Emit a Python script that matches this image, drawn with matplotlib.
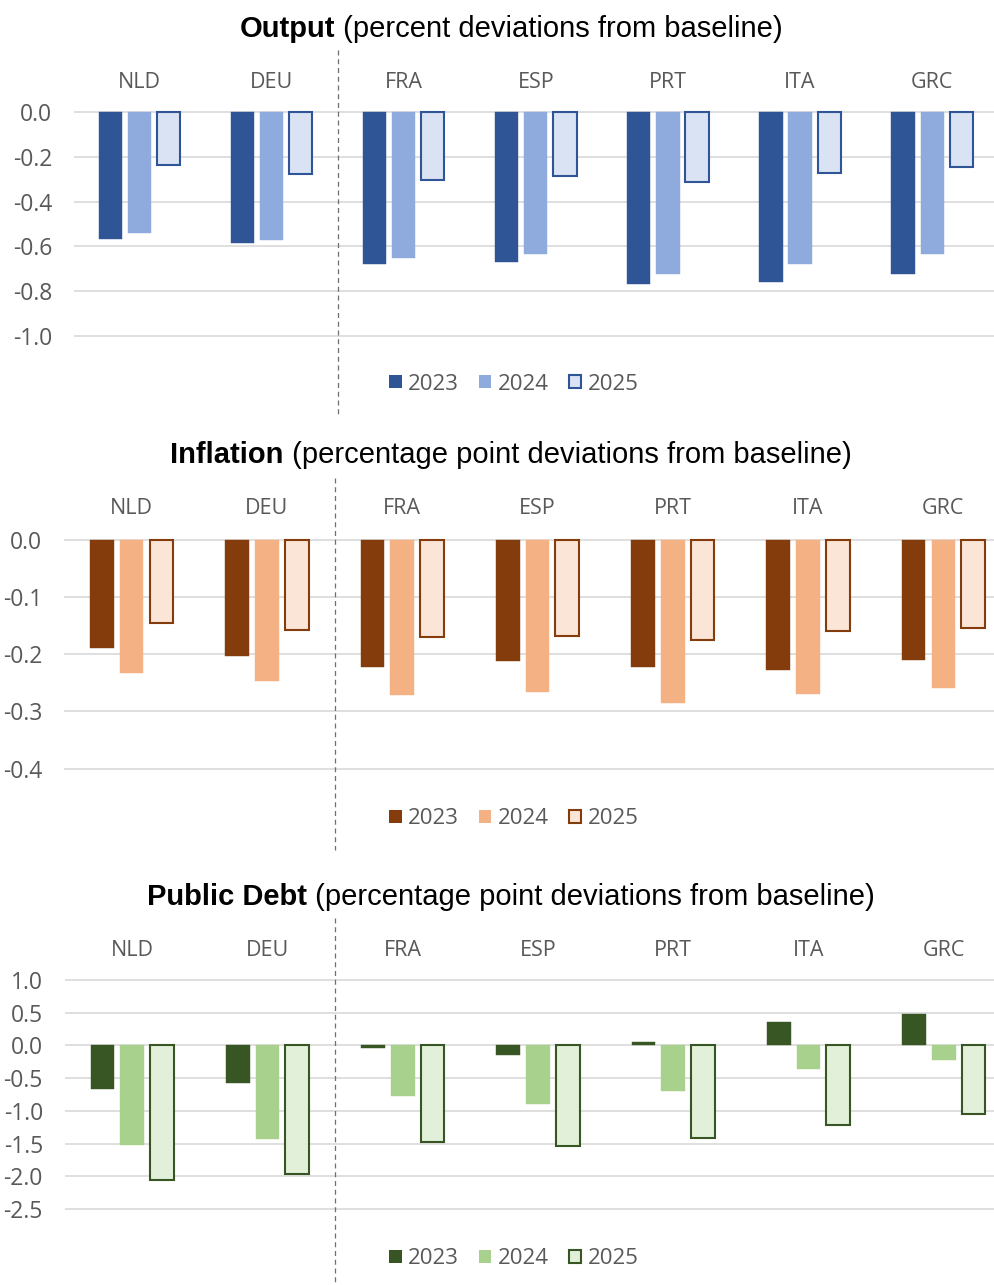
import matplotlib
matplotlib.use("Agg")
import matplotlib.pyplot as plt
import matplotlib.transforms as mtrans
from matplotlib.lines import Line2D
from matplotlib.patches import Patch
import numpy as np

plt.rcParams["axes.unicode_minus"] = False

countries = ["NLD", "DEU", "FRA", "ESP", "PRT", "ITA", "GRC"]
years = ["2023", "2024", "2025"]

# Output, percent deviations
output_2023 = [-0.566, -0.586, -0.680, -0.671, -0.766, -0.757, -0.725]
output_2024 = [-0.540, -0.571, -0.650, -0.632, -0.722, -0.680, -0.634]
output_2025 = [-0.236, -0.277, -0.304, -0.284, -0.312, -0.274, -0.244]

# Inflation, pp deviations
infl_2023 = [-0.190, -0.203, -0.223, -0.212, -0.223, -0.227, -0.211]
infl_2024 = [-0.232, -0.247, -0.271, -0.266, -0.286, -0.270, -0.259]
infl_2025 = [-0.145, -0.158, -0.170, -0.168, -0.176, -0.160, -0.155]

# Public debt, pp deviations
debt_2023 = [-0.66, -0.58, -0.04, -0.14, 0.05, 0.36, 0.48]
debt_2024 = [-1.52, -1.43, -0.78, -0.90, -0.69, -0.36, -0.23]
debt_2025 = [-2.06, -1.97, -1.47, -1.54, -1.41, -1.22, -1.05]

output_ticks = [0.0, -0.2, -0.4, -0.6, -0.8, -1.0]
infl_ticks = [0.0, -0.1, -0.2, -0.3, -0.4]
debt_ticks = [1.0, 0.5, 0.0, -0.5, -1.0, -1.5, -2.0, -2.5]

W, H = 994, 1285
fig = plt.figure(figsize=(W / 100, H / 100), dpi=100)

GRAY = "#595959"
LABEL_FONT = ["Open Sans", "DejaVu Sans"]
TITLE_FONT = ["Liberation Sans", "DejaVu Sans"]
FS = 15.5


def fy(p):
    return 1 - p / H


def title(ypx, bold, rest):
    r = fig.canvas.get_renderer()
    t1 = fig.text(0, fy(ypx), bold, fontsize=21, fontweight="bold",
                  family=TITLE_FONT, va="center", ha="left")
    t2 = fig.text(0, fy(ypx), rest, fontsize=21,
                  family=TITLE_FONT, va="center", ha="left")
    w1 = t1.get_window_extent(r).width
    w2 = t2.get_window_extent(r).width
    left = 511 - (w1 + w2) / 2
    t1.set_x(left / W)
    t2.set_x((left + w1) / W)


def panel(x0, x1, ptop, vtop, pbot, vbot, ticks, series, colors, label_y, legend_y, dash):
    m = 12
    scale = (vtop - vbot) / (pbot - ptop)
    ax = fig.add_axes([x0 / W, 1 - (pbot + m) / H, (x1 - x0) / W, (pbot - ptop + 2 * m) / H])
    ax.set_ylim(vbot - m * scale, vtop + m * scale)
    ax.set_xlim(-0.5, 6.5)
    ax.patch.set_alpha(0)
    for s in ax.spines.values():
        s.set_visible(False)
    ax.set_xticks([])
    ax.set_yticks(ticks)
    ax.set_yticklabels([f"{t:.1f}" for t in ticks], color=GRAY, fontsize=16.5, family=LABEL_FONT)
    ax.tick_params(axis="y", length=0, pad=15.5)
    ax.yaxis.grid(True, color="#D9D9D9", lw=1.2)
    ax.set_axisbelow(True)

    x = np.arange(len(countries))
    off = 0.22
    wd = 0.175
    handles = []
    for k, vals in enumerate(series):
        fc, ec = colors[k]
        ax.bar(x + (k - 1) * off, vals, wd, color=fc,
               edgecolor=ec if ec else fc, linewidth=1.5 if ec else 0.3)
        handles.append(Patch(facecolor=fc, edgecolor=ec if ec else fc, linewidth=1.5 if ec else 0))

    tr = mtrans.blended_transform_factory(ax.transData, fig.transFigure)
    for i, c in enumerate(countries):
        ax.text(i, fy(label_y), c, transform=tr, ha="center", va="center",
                color=GRAY, fontsize=FS, family=LABEL_FONT)

    fig.add_artist(Line2D([1.5, 1.5], [fy(dash[0]), fy(dash[1])], transform=tr,
                          color="#6F6F6F", lw=0.9, ls=(0, (4, 3))))

    leg = fig.legend(handles, years, loc="center", bbox_to_anchor=(514 / W, fy(legend_y)),
                     ncol=3, frameon=False, handlelength=0.55, handleheight=0.55,
                     handletextpad=0.3, columnspacing=0.9,
                     prop={"family": LABEL_FONT, "size": 16})
    for t in leg.get_texts():
        t.set_color(GRAY)
    return ax


title(29, "Output", " (percent deviations from baseline)")
panel(73.7, 998.1, 112, 0.0, 336, -1.0, output_ticks,
      [output_2023, output_2024, output_2025],
      [("#2F5597", None), ("#8FAADC", None), ("#DAE3F3", "#2F5597")],
      82, 384, (50, 415))

title(455, "Inflation", " (percentage point deviations from baseline)")
panel(64, 1011, 539.7, 0.0, 768.7, -0.4, infl_ticks,
      [infl_2023, infl_2024, infl_2025],
      [("#843C0C", None), ("#F4B183", None), ("#FBE5D6", "#843C0C")],
      509, 819, (478, 850))

title(897, "Public Debt", " (percentage point deviations from baseline)")
panel(64.5, 1011.5, 980, 1.0, 1209, -2.5, debt_ticks,
      [debt_2023, debt_2024, debt_2025],
      [("#375623", None), ("#A9D18E", None), ("#E2F0D9", "#375623")],
      950, 1259, (918, 1285))

fig.savefig("out.png", dpi=100)
